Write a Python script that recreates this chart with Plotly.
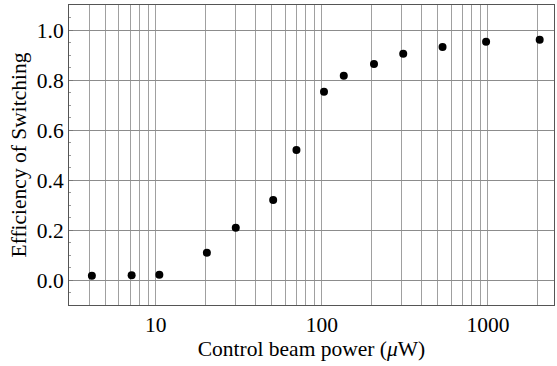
import plotly.graph_objects as go

power_uW = [4.12, 7.15, 10.5, 20.3, 30.3, 50.9, 70.3, 103, 135.5, 206, 309, 533, 975, 2050]
efficiency = [0.017, 0.019, 0.021, 0.109, 0.209, 0.320, 0.520, 0.753, 0.817, 0.864, 0.905, 0.932, 0.953, 0.961]

x_major = [10, 100, 1000]
x_major_text = ["10", "100", "1000"]
x_minor = [3, 4, 5, 6, 7, 8, 9, 20, 30, 40, 50, 60, 70, 80, 90,
           200, 300, 400, 500, 600, 700, 800, 900, 2000]
y_ticks = [0.0, 0.2, 0.4, 0.6, 0.8, 1.0]
y_text = ["0.0", "0.2", "0.4", "0.6", "0.8", "1.0"]

FONT = "Liberation Serif"
GRID = "#a0a0a0"
FS = 21.5

fig = go.Figure()
fig.add_trace(go.Scatter(
    x=power_uW, y=efficiency, mode="markers",
    marker=dict(color="black", size=8),
    showlegend=False,
))

fig.update_layout(
    width=557, height=366,
    margin=dict(l=69, r=3, t=5, b=61),
    paper_bgcolor="white", plot_bgcolor="white",
    font=dict(family=FONT, size=FS, color="black"),
    xaxis=dict(
        type="log",
        range=[0.4771, 3.398],
        tickvals=x_major, ticktext=x_major_text,
        showgrid=True, gridcolor=GRID, gridwidth=1,
        ticks="", showline=True, linecolor="#555", linewidth=1, mirror=True,
        minor=dict(tickvals=x_minor, showgrid=True, gridcolor=GRID, gridwidth=1, ticks=""),
        title=dict(text="Control beam power (<i>μ</i>W)", standoff=4, font=dict(size=FS)),
        tickfont=dict(size=FS),
        zeroline=False,
    ),
    yaxis=dict(
        range=[-0.1, 1.1],
        tickvals=y_ticks, ticktext=y_text,
        showgrid=True, gridcolor="#8c8c8c", gridwidth=1,
        ticks="inside", ticklen=4, tickcolor="#777",
        showline=True, linecolor="#555", linewidth=1, mirror=True,
        minor=dict(dtick=0.05, ticks="inside", ticklen=2, tickcolor="#999", showgrid=False),
        title=dict(text="Efficiency of Switching", standoff=4, font=dict(size=FS)),
        tickfont=dict(size=FS),
        zeroline=False,
    ),
)

fig.write_html("out.html")
